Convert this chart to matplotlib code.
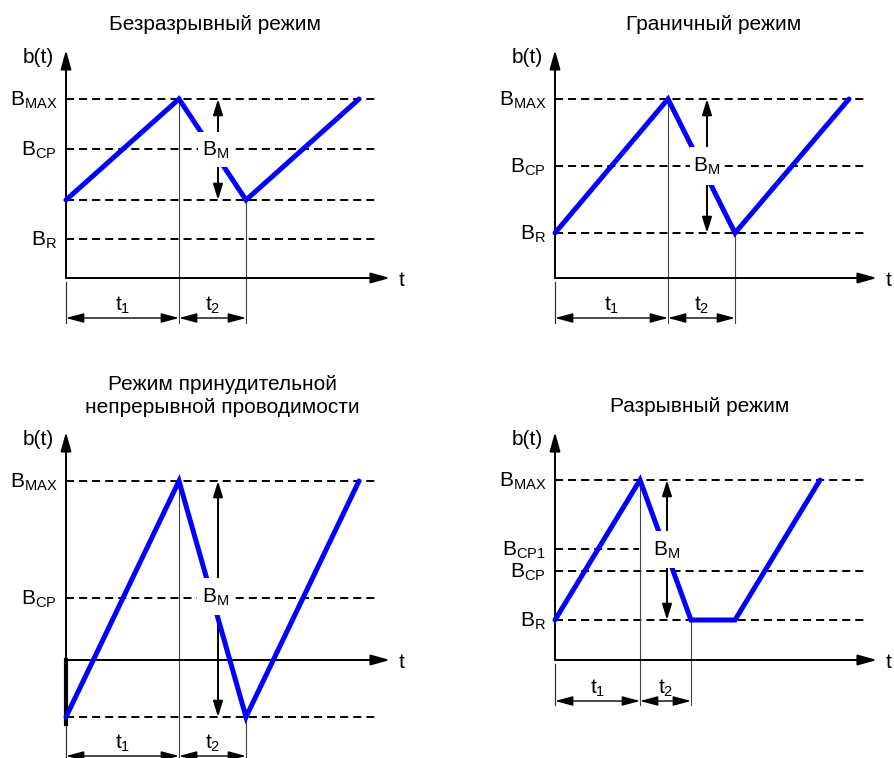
import matplotlib
matplotlib.use("Agg")
import matplotlib.pyplot as plt
from matplotlib.patches import Rectangle

plt.rcParams['font.family'] = ['Liberation Sans', 'DejaVu Sans']
plt.rcParams['mathtext.fontset'] = 'custom'
plt.rcParams['mathtext.rm'] = 'Liberation Sans'
plt.rcParams['mathtext.it'] = 'Liberation Sans:italic'
plt.rcParams['mathtext.bf'] = 'Liberation Sans:bold'
plt.rcParams['lines.scale_dashes'] = False

# ---------------- data (time / flux-density units of each diagram) ----------------
titles = ["Безразрывный режим",
          "Граничный режим",
          "Режим принудительной\nнепрерывной проводимости",
          "Разрывный режим"]

# waveform b(t): time points and values
t_cont = [0, 113, 180, 293]
b_cont = [78, 179, 78, 179]
t_bound = [0, 113, 180, 294]
b_bound = [45, 179, 45, 179]
t_forced = [0, 113, 180, 293]
b_forced = [-57, 179, -57, 179]
t_disc = [0, 85, 136, 180, 265]
b_disc = [40, 180, 40, 40, 180]

# reference levels: (subscript of B, or None for an unlabeled line, value)
levels_cont = [("MAX", 179), ("CP", 129), (None, 78), ("R", 39)]
levels_bound = [("MAX", 179), ("CP", 112), ("R", 45)]
levels_forced = [("MAX", 179), ("CP", 62), (None, -57)]
levels_disc = [("MAX", 180), ("CP1", 111), ("CP", 89), ("R", 40)]

# interval boundaries: start, end of t1, end of t2
bounds_cont = [0, 113, 180]
bounds_bound = [0, 113, 180]
bounds_forced = [0, 113, 180]
bounds_disc = [0, 85, 136]

interval_labels = [r"$\mathregular{t_1}$", r"$\mathregular{t_2}$"]
axis_x_label = "t"
axis_y_label = "b(t)"
swing_label = r"$\mathregular{B_M}$"

# ---------------- layout ----------------
W, H = 894, 758
fig = plt.figure(figsize=(W / 100, H / 100), dpi=100)

panels = [
    dict(title=titles[0], t=t_cont, b=b_cont, levels=levels_cont, bounds=bounds_cont,
         origin=(66, 278), dash_end=311, tip=324, top=228, dim=-40, vbot=-45,
         bm_x=152, box=(132, 111, 35, 35), title_xy=(149, 248), short={"CP1": 84}),
    dict(title=titles[1], t=t_bound, b=b_bound, levels=levels_bound, bounds=bounds_bound,
         origin=(555, 278), dash_end=310, tip=322, top=228, dim=-40, vbot=-45,
         bm_x=152, box=(135, 93, 34, 38), title_xy=(159, 248), short={}),
    dict(title=titles[2], t=t_forced, b=b_forced, levels=levels_forced, bounds=bounds_forced,
         origin=(66, 660), dash_end=311, tip=324, top=228, dim=-96, vbot=-100,
         bm_x=152, box=(131, 45, 38, 37), title_xy=(156, 247), short={}),
    dict(title=titles[3], t=t_disc, b=b_disc, levels=levels_disc, bounds=bounds_disc,
         origin=(555, 660), dash_end=310, tip=322, top=228, dim=-41, vbot=-45,
         bm_x=112, box=(95, 92, 34, 37), title_xy=(145, 248), short={"CP1": 84}),
]

FS = 15
DASH = (5.8, 3.6)

def arrow(ax, p_from, p_to, style, lw, z=2):
    ax.annotate("", xy=p_to, xytext=p_from, xycoords="data", textcoords="data",
                arrowprops=dict(arrowstyle=style, color="black", lw=lw,
                                shrinkA=0, shrinkB=0, mutation_scale=1),
                zorder=z, annotation_clip=False)

for i, p in enumerate(panels):
    ox, oy = p["origin"]
    ax = fig.add_axes([0, 0, 1, 1])
    ax.set_xlim(-ox, W - ox)
    ax.set_ylim(oy - H, oy)
    ax.axis("off")

    # dashed reference levels and their labels
    for name, val in p["levels"]:
        x_end = p["short"].get(name, p["dash_end"]) if name else p["dash_end"]
        ax.plot([0, x_end], [val, val], color="black", lw=1.4, dashes=DASH,
                dash_capstyle="butt", zorder=1)
        if name:
            ax.text(-9, val - 7, r"$\mathregular{B_{%s}}$" % name, ha="right",
                    va="baseline", fontsize=FS, zorder=5)

    # coordinate axes with arrow heads
    arrow(ax, (0, 0), (0, p["top"]), "-|>,head_length=11.5,head_width=3.2", 1.4)
    arrow(ax, (0, 0), (p["tip"], 0), "-|>,head_length=11.5,head_width=3.2", 1.4)
    ax.text(-12, 215, axis_y_label, ha="right", va="baseline", fontsize=FS)
    ax.text(p["tip"] + 9, -8, axis_x_label, ha="left", va="baseline", fontsize=FS)

    # extension of the y axis below the t axis
    if i == 2:
        ax.plot([0, 0], [0, p["b"][0] - 7], color="black", lw=3.0, zorder=2)
        ax.plot([0, 0], [p["b"][0] - 7, p["vbot"]], color="#333333", lw=0.9, zorder=1)
    else:
        ax.plot([0, 0], [-4, p["vbot"]], color="#333333", lw=0.9, zorder=1)

    # waveform
    ax.plot(p["t"], p["b"], color="#0000FF", lw=3.6, solid_joinstyle="miter",
            solid_capstyle="round", zorder=3)

    # vertical markers at end of t1 and t2
    t0, t1e, t2e = p["bounds"]
    b_at = dict(zip(p["t"], p["b"]))
    for tx in (t1e, t2e):
        ax.plot([tx, tx], [b_at[tx], p["vbot"]], color="#444444", lw=0.8, zorder=1)

    # interval dimension arrows
    for k, (a, c) in enumerate([(t0, t1e), (t1e, t2e)]):
        arrow(ax, (a, p["dim"]), (c, p["dim"]),
              "<|-|>,head_length=10.8,head_width=2.9", 1.0)
        ax.text((a + c) / 2, p["dim"] + 7, interval_labels[k], ha="center",
                va="baseline", fontsize=FS)

    # B_M swing arrow
    bmin = min(p["b"])
    bmax = max(p["b"])
    arrow(ax, (p["bm_x"], bmin), (p["bm_x"], bmax),
          "<|-|>,head_length=9.4,head_width=2.9", 1.4)
    bx, by, bw, bh = p["box"]
    ax.add_patch(Rectangle((bx, by), bw, bh, facecolor="white", edgecolor="none",
                           zorder=4))
    ax.text(bx + bw / 2, by + bh / 2 - 6, swing_label, ha="center", va="baseline",
            fontsize=FS, zorder=5)

    # title
    tx_, ty_ = p["title_xy"]
    if "\n" in p["title"]:
        l1, l2 = p["title"].split("\n")
        ax.text(tx_, ty_ + 23, l1, ha="center", va="baseline", fontsize=FS)
        ax.text(tx_, ty_, l2, ha="center", va="baseline", fontsize=FS)
    else:
        ax.text(tx_, ty_, p["title"], ha="center", va="baseline", fontsize=FS)

fig.savefig("out.png", dpi=100, facecolor="white")
